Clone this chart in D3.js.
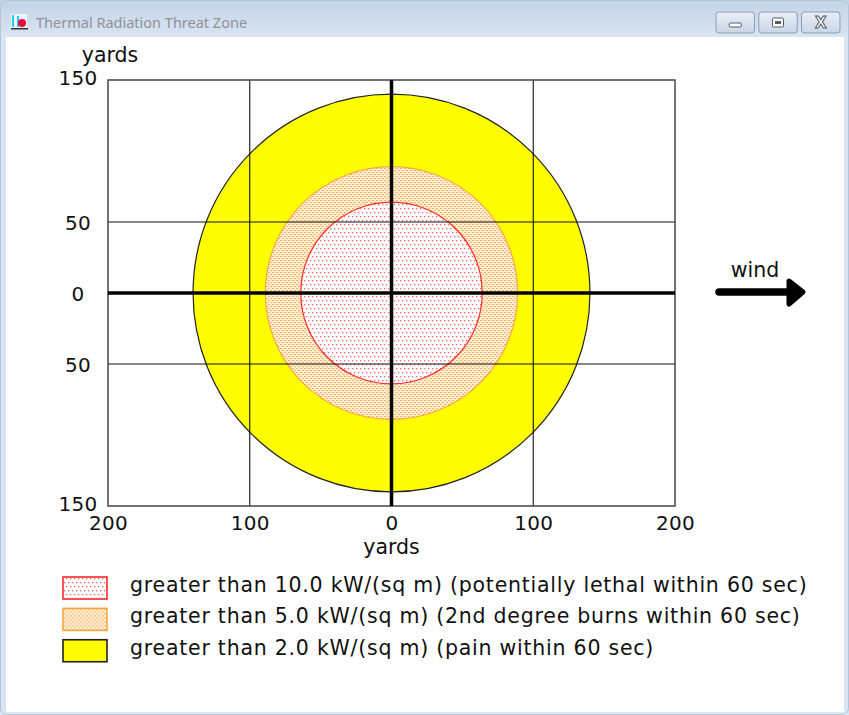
<!DOCTYPE html>
<html>
<head>
<meta charset="utf-8">
<script src="https://cdn.jsdelivr.net/npm/d3@7"></script>
<style>
  html, body { margin: 0; padding: 0; background: #d9e5f2; }
  svg { display: block; }
  text { font-family: "DejaVu Sans", Verdana, sans-serif; fill: #111; }
</style>
</head>
<body>
<div id="grafiek"></div>
<script>
// Gegevens van de grafiek.
const windowTitle = "Thermal Radiation Threat Zone";
const zoneNames = ["lethal", "burns", "pain"];
const zoneRadii = [64, 89, 140];          // yards
const zoneLabels = [
  "greater than 10.0 kW/(sq m) (potentially lethal within 60 sec)",
  "greater than 5.0 kW/(sq m) (2nd degree burns within 60 sec)",
  "greater than 2.0 kW/(sq m) (pain within 60 sec)"
];
const xTicks = [-200, -100, 0, 100, 200];
const yTicks = [-150, -50, 0, 50, 150];
const xGrid = [-100, 100];
const yGrid = [-50, 50];
const unitLabel = "yards";
const windLabel = "wind";

const W = 849, H = 715;
const labelFont = '20.5px';
const labelSpacing = '0.76px';

const svg = d3.select('#grafiek')
  .append('svg')
  .attr('width', W)
  .attr('height', H);

const defs = svg.append('defs');

// window frame
const tb = defs.append('linearGradient').attr('id', 'titlebar')
  .attr('x1', 0).attr('y1', 0).attr('x2', 0).attr('y2', 1);
tb.append('stop').attr('offset', 0).attr('stop-color', '#c3d3e7');
tb.append('stop').attr('offset', 1).attr('stop-color', '#d9e5f2');

const btn = defs.append('linearGradient').attr('id', 'btn')
  .attr('x1', 0).attr('y1', 0).attr('x2', 0).attr('y2', 1);
btn.append('stop').attr('offset', 0).attr('stop-color', '#e9eff7');
btn.append('stop').attr('offset', 1).attr('stop-color', '#c9d6e6');

// fill patterns
const pRed = defs.append('pattern').attr('id', 'dotsRed')
  .attr('patternUnits', 'userSpaceOnUse').attr('width', 4).attr('height', 8);
pRed.append('rect').attr('width', 4).attr('height', 8).attr('fill', '#fff');
pRed.append('rect').attr('x', 0).attr('y', 0).attr('width', 1.3).attr('height', 1.3).attr('fill', '#f66');
pRed.append('rect').attr('x', 2).attr('y', 4).attr('width', 1.3).attr('height', 1.3).attr('fill', '#f66');

const pOr = defs.append('pattern').attr('id', 'dotsOrange')
  .attr('patternUnits', 'userSpaceOnUse').attr('width', 4).attr('height', 4);
pOr.append('rect').attr('width', 4).attr('height', 4).attr('fill', '#ffeed6');
pOr.append('rect').attr('x', 0).attr('y', 0).attr('width', 2).attr('height', 1).attr('fill', '#fbb05a');
pOr.append('rect').attr('x', 2).attr('y', 2).attr('width', 2).attr('height', 1).attr('fill', '#fbb05a');

const zoneFill = d3.scaleOrdinal().domain(zoneNames)
  .range(['url(#dotsRed)', 'url(#dotsOrange)', '#ffff00']);
const zoneStroke = d3.scaleOrdinal().domain(zoneNames)
  .range(['#ff2a2a', '#ffa640', '#222']);

svg.append('rect').attr('width', W).attr('height', H).attr('fill', '#d9e5f2');
svg.append('rect').attr('width', W).attr('height', 38).attr('fill', 'url(#titlebar)');
svg.append('rect').attr('x', 0.5).attr('y', 0.5).attr('width', W - 1).attr('height', H - 1)
  .attr('rx', 6).attr('fill', 'none').attr('stroke', '#b5c4d8');
svg.append('rect').attr('x', 6).attr('y', 37).attr('width', 838).attr('height', 675)
  .attr('fill', '#fff');

// title icon
const icon = svg.append('g').attr('transform', 'translate(11,14)');
icon.append('rect').attr('width', 16).attr('height', 15).attr('fill', '#eef4fb');
icon.append('rect').attr('x', 1).attr('y', 1).attr('width', 2).attr('height', 12).attr('fill', '#27c9f0');
icon.append('rect').attr('x', 6).attr('y', 2).attr('width', 2).attr('height', 11).attr('fill', '#27c9f0');
icon.append('circle').attr('cx', 11).attr('cy', 9).attr('r', 4).attr('fill', '#f0003c');
icon.append('rect').attr('x', 0).attr('y', 14).attr('width', 17).attr('height', 1.5).attr('fill', '#333');

svg.append('text').attr('x', 36).attr('y', 28)
  .style('font-family', '"Noto Sans", sans-serif')
  .style('font-size', '14.5px').style('fill', '#8f9296')
  .text(windowTitle);

// window buttons
const buttons = ['min', 'max', 'close'];
const bx = d3.scaleBand().domain(buttons).range([716, 840]).paddingInner(0.1);
const bg = svg.append('g').selectAll('g').data(buttons).join('g')
  .attr('transform', d => `translate(${bx(d)},12)`);
bg.append('rect').attr('width', bx.bandwidth()).attr('height', 21).attr('rx', 3)
  .attr('fill', 'url(#btn)').attr('stroke', '#8c9db5');
bg.filter(d => d === 'min').append('rect')
  .attr('x', bx.bandwidth() / 2 - 6).attr('y', 11).attr('width', 12).attr('height', 4).attr('rx', 1)
  .attr('fill', '#fff').attr('stroke', '#555e6b');
bg.filter(d => d === 'max').append('rect')
  .attr('x', bx.bandwidth() / 2 - 5.5).attr('y', 6).attr('width', 11).attr('height', 9).attr('rx', 1)
  .attr('fill', '#fff').attr('stroke', '#555e6b').attr('stroke-width', 1);
bg.filter(d => d === 'max').append('rect')
  .attr('x', bx.bandwidth() / 2 - 3).attr('y', 9).attr('width', 6).attr('height', 3)
  .attr('fill', '#555e6b');
bg.filter(d => d === 'close').append('text')
  .attr('x', bx.bandwidth() / 2).attr('y', 16).attr('text-anchor', 'middle')
  .style('font-size', '15px').style('font-weight', 'bold')
  .style('fill', '#fff').style('stroke', '#555e6b').style('stroke-width', 1)
  .text('X');

// plot
const x = d3.scaleLinear().domain([-200, 200]).range([108, 675]);
const y = d3.scaleLinear().domain([-150, 150]).range([506, 80]);

const zones = svg.append('g');
zones.selectAll('ellipse')
  .data(zoneNames.map((n, i) => ({ name: n, r: zoneRadii[i] })).reverse())
  .join('ellipse')
  .attr('cx', x(0)).attr('cy', y(0))
  .attr('rx', d => x(d.r) - x(0))
  .attr('ry', d => y(0) - y(d.r))
  .attr('fill', d => zoneFill(d.name))
  .attr('stroke', d => zoneStroke(d.name))
  .attr('stroke-width', 1.2);

const grid = svg.append('g').attr('stroke', '#111').attr('stroke-width', 1.1);
grid.selectAll('.vx').data(xGrid).join('line').attr('class', 'vx')
  .attr('x1', d => x(d)).attr('x2', d => x(d)).attr('y1', y(150)).attr('y2', y(-150));
grid.selectAll('.hy').data(yGrid).join('line').attr('class', 'hy')
  .attr('x1', x(-200)).attr('x2', x(200)).attr('y1', d => y(d)).attr('y2', d => y(d));

svg.append('rect')
  .attr('x', x(-200)).attr('y', y(150))
  .attr('width', x(200) - x(-200)).attr('height', y(-150) - y(150))
  .attr('fill', 'none').attr('stroke', '#444').attr('stroke-width', 1.5);

// main axes
svg.append('line').attr('x1', x(-200)).attr('x2', x(200)).attr('y1', y(0)).attr('y2', y(0))
  .attr('stroke', '#000').attr('stroke-width', 3.5);
svg.append('line').attr('x1', x(0)).attr('x2', x(0)).attr('y1', y(150)).attr('y2', y(-150))
  .attr('stroke', '#000').attr('stroke-width', 3.5);

const fmt = d => Math.abs(d);

const xAxis = svg.append('g')
  .attr('transform', `translate(0, ${y(-150)})`)
  .call(d3.axisBottom(x).tickValues(xTicks).tickFormat(fmt).tickSize(0).tickPadding(10));
xAxis.select('.domain').remove();
xAxis.selectAll('text').style('font-size', '20px').attr('fill', '#111')
  .style('letter-spacing', '0.3px')
  .style('font-family', '"DejaVu Sans", sans-serif');

const yAxis = svg.append('g')
  .attr('transform', `translate(${x(-200)}, 0)`)
  .call(d3.axisLeft(y).tickValues(yTicks).tickFormat(fmt).tickSize(0));
yAxis.select('.domain').remove();
yAxis.selectAll('text')
  .attr('x', -30).attr('text-anchor', 'middle')
  .attr('dy', d => Math.abs(d) === 150 ? '0.22em' : '0.36em')
  .attr('fill', '#111')
  .style('letter-spacing', '0.3px')
  .style('font-size', '20px').style('font-family', '"DejaVu Sans", sans-serif');

svg.append('text').attr('x', 110).attr('y', 62).attr('text-anchor', 'middle')
  .style('font-size', labelFont).text(unitLabel);
svg.append('text').attr('x', x(0)).attr('y', 554).attr('text-anchor', 'middle')
  .style('font-size', labelFont).text(unitLabel);

// wind arrow
svg.append('text').attr('x', 755).attr('y', 277).attr('text-anchor', 'middle')
  .style('font-size', labelFont).text(windLabel);
const wind = svg.append('g').attr('stroke', '#000').attr('stroke-linecap', 'round')
  .attr('stroke-linejoin', 'round');
wind.append('line').attr('x1', 719).attr('x2', 792).attr('y1', 292).attr('y2', 292)
  .attr('stroke-width', 7.5);
wind.append('path').attr('d', 'M789,281 L803,292 L789,304 Z')
  .attr('fill', '#000').attr('stroke-width', 5);

// legend
const legendY = d3.scaleBand().domain(zoneNames).range([574, 665]).paddingInner(0.1);
const legend = svg.append('g').selectAll('g').data(zoneNames).join('g')
  .attr('transform', d => `translate(0, ${legendY(d)})`);
legend.append('rect')
  .attr('x', 63).attr('y', 3).attr('width', 44).attr('height', 22)
  .attr('fill', d => zoneFill(d))
  .attr('stroke', d => zoneStroke(d)).attr('stroke-width', 1.6);
legend.append('text')
  .attr('x', 130).attr('y', 18)
  .style('font-size', labelFont)
  .style('letter-spacing', labelSpacing)
  .text((d, i) => zoneLabels[i]);
</script>
</body>
</html>
